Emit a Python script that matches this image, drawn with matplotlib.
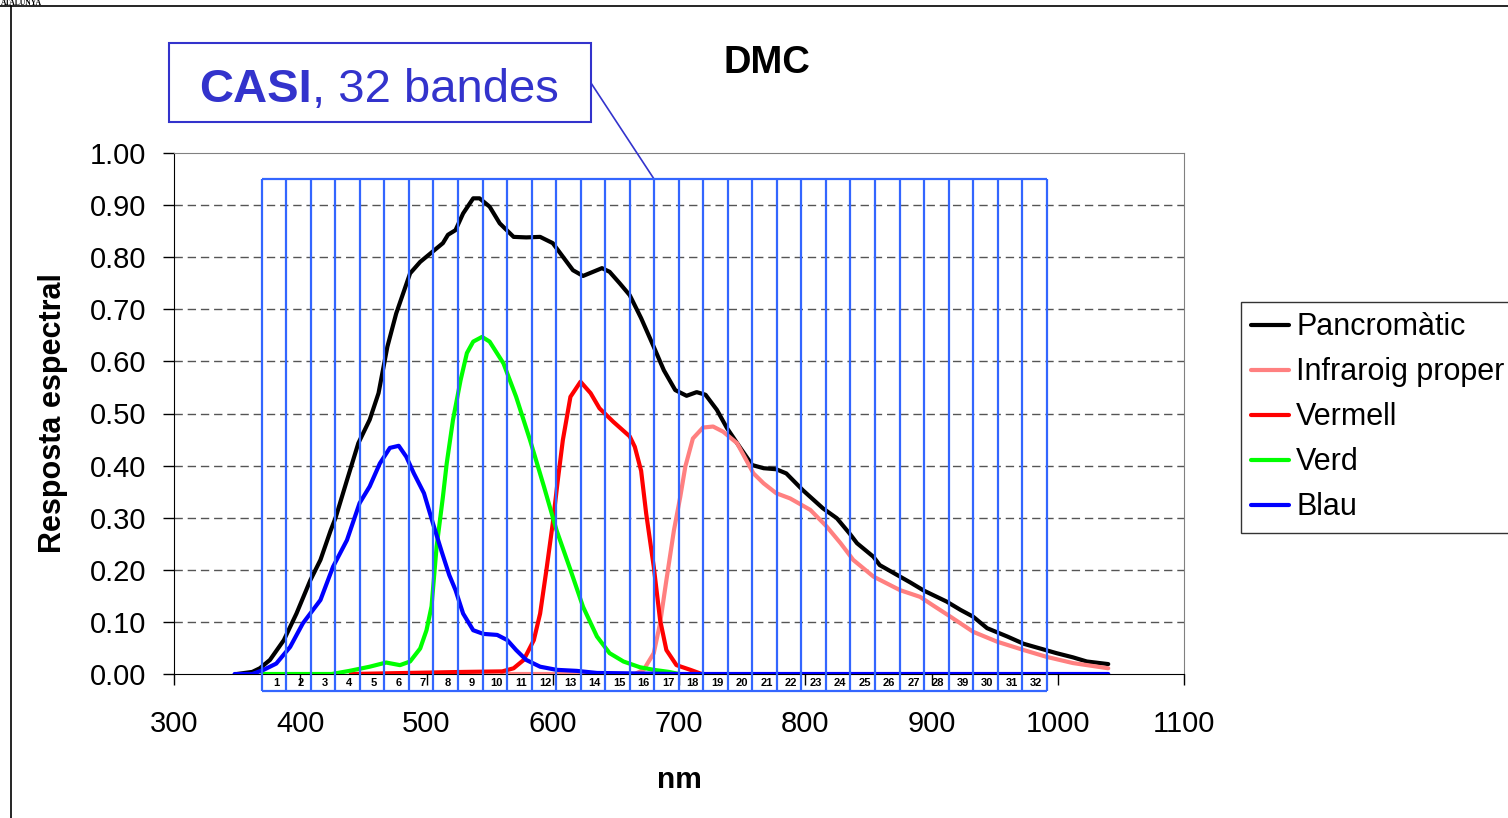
import numpy as np
import matplotlib
matplotlib.use("Agg")
import matplotlib.pyplot as plt
from matplotlib.patches import Rectangle
from matplotlib.lines import Line2D

plt.rcParams['font.family'] = ['Liberation Sans', 'DejaVu Sans']

# ==========================================
# dades llegides de la gràfica (nm, resposta)
# ==========================================
pan_nm = [350, 362, 368, 376, 387, 397, 408, 416, 424, 428,
          437, 446, 455, 462, 469, 476, 487, 495, 505, 513,
          517, 523, 529, 537, 542, 550, 558, 569, 579, 590,
          600, 608, 616, 624, 632, 639, 645, 653, 661, 670,
          680, 688, 697, 706, 714, 721, 730, 738, 748, 758,
          767, 777, 785, 798, 814, 825, 835, 841, 854, 859,
          875, 883, 894, 912, 923, 933, 944, 960, 973, 986,
          999, 1012, 1023, 1040]
pan_val = [0.0, 0.004, 0.011, 0.027, 0.065, 0.116, 0.180, 0.219, 0.275, 0.30,
           0.372, 0.443, 0.488, 0.539, 0.628, 0.692, 0.769, 0.791, 0.811, 0.827,
           0.843, 0.852, 0.884, 0.913, 0.913, 0.897, 0.865, 0.839, 0.838, 0.839,
           0.827, 0.801, 0.775, 0.764, 0.772, 0.779, 0.772, 0.75, 0.727, 0.683,
           0.628, 0.583, 0.545, 0.534, 0.541, 0.536, 0.507, 0.472, 0.436, 0.401,
           0.395, 0.393, 0.385, 0.353, 0.318, 0.299, 0.27, 0.251, 0.225, 0.209,
           0.187, 0.176, 0.160, 0.139, 0.123, 0.110, 0.088, 0.072, 0.058, 0.049,
           0.040, 0.032, 0.024, 0.019]

nir_nm = [560, 665, 672, 680, 685, 690, 696, 701, 705, 711,
          719, 727, 735, 746, 759, 767, 777, 788, 804, 817,
          828, 838, 854, 875, 891, 901, 915, 933, 952, 973,
          991, 1012, 1040]
nir_val = [0.0, 0.0, 0.008, 0.04, 0.097, 0.18, 0.276, 0.34, 0.398, 0.452,
           0.473, 0.475, 0.465, 0.443, 0.385, 0.366, 0.347, 0.337, 0.315, 0.283,
           0.251, 0.219, 0.187, 0.161, 0.148, 0.132, 0.110, 0.081, 0.062, 0.046,
           0.033, 0.021, 0.011]

red_nm = [440, 530, 560, 569, 577, 585, 590, 595, 600, 604,
          608, 614, 622, 630, 637, 648, 661, 665, 670, 674,
          680, 685, 690, 698, 709, 718]
red_val = [0.0, 0.004, 0.005, 0.011, 0.027, 0.065, 0.116, 0.2, 0.289, 0.372,
           0.449, 0.532, 0.561, 0.539, 0.51, 0.484, 0.456, 0.436, 0.39, 0.308,
           0.206, 0.104, 0.046, 0.017, 0.008, 0.0]

grn_nm = [370, 425, 439, 455, 468, 479, 487, 495, 500, 504,
          508, 513, 516, 521, 527, 532, 537, 544, 550, 561,
          571, 582, 593, 603, 614, 624, 635, 645, 656, 669,
          680, 692, 700]
grn_val = [0.0, 0.0, 0.006, 0.014, 0.022, 0.017, 0.024, 0.049, 0.084, 0.13,
           0.244, 0.34, 0.404, 0.488, 0.564, 0.616, 0.638, 0.647, 0.638, 0.596,
           0.532, 0.449, 0.36, 0.276, 0.2, 0.129, 0.072, 0.04, 0.024, 0.013,
           0.008, 0.004, 0.0]

blu_nm = [348, 362, 371, 381, 392, 402, 416, 426, 437, 447,
          455, 463, 471, 478, 484, 490, 498, 505, 512, 518,
          523, 529, 537, 545, 556, 564, 571, 579, 590, 603,
          619, 635, 700, 1040]
blu_val = [0.0, 0.0, 0.008, 0.02, 0.052, 0.097, 0.142, 0.206, 0.257, 0.328,
           0.36, 0.404, 0.434, 0.438, 0.417, 0.385, 0.347, 0.29, 0.235, 0.19,
           0.161, 0.116, 0.084, 0.077, 0.075, 0.065, 0.046, 0.027, 0.014, 0.008,
           0.006, 0.002, 0.0, 0.0]

series_names = ['Pancromàtic', 'Infraroig proper', 'Vermell', 'Verd', 'Blau']
series_colors = ['#000000', '#FF8080', '#FF0000', '#00FF00', '#0000FF']

# bandes CASI (la 29 surt com "39" a l'original)
band_labels = [str(i) for i in range(1, 29)] + ['39', '30', '31', '32']
BAND_START = 369.5
BAND_WIDTH = 19.43
BAND_TOP = 0.9495
BAND_BOTTOM = -0.0335

W, H = 1508, 818
BOX_BLUE = '#3333CC'
BAND_BLUE = '#3366FF'


def fx(px):
    return px / W


def fy(py):
    return 1 - py / H


fig = plt.figure(figsize=(W / 100, H / 100), dpi=100)
ax = fig.add_axes([fx(174), fy(674), (1184 - 174) / W, (674 - 153) / H])

all_series = [(pan_nm, pan_val), (nir_nm, nir_val), (red_nm, red_val),
              (grn_nm, grn_val), (blu_nm, blu_val)]
for (xs, ys), name, col in zip(all_series, series_names, series_colors):
    ax.plot(xs, ys, color=col, lw=3, label=name, zorder=3,
            solid_joinstyle='round', solid_capstyle='round')

ax.set_xlim(300, 1100)
ax.set_ylim(0, 1)
ax.set_xticks(range(300, 1101, 100))
yt = np.round(np.arange(0, 1.01, 0.1), 2)
ax.set_yticks(yt)
ax.set_yticklabels([f'{v:.2f}' for v in yt])
ax.tick_params(axis='both', direction='out', length=8, width=1,
               labelsize=21, color='black')
ax.tick_params(axis='x', pad=18)
ax.tick_params(axis='y', pad=12)

for v in yt[1:-1]:
    ax.axhline(v, color='#555555', lw=1, ls=(0, (6, 3.5)), zorder=1)

for side in ['top', 'right']:
    ax.spines[side].set_color('#808080')
for side in ['left', 'bottom']:
    ax.spines[side].set_color('black')

# rectangles de les bandes
edges = BAND_START + BAND_WIDTH * np.arange(len(band_labels) + 1)
ax.vlines(edges, BAND_BOTTOM, BAND_TOP, colors=BAND_BLUE, lw=1.6,
          clip_on=False, zorder=4)
ax.hlines([BAND_BOTTOM, BAND_TOP], edges[0], edges[-1], colors=BAND_BLUE,
          lw=1.6, clip_on=False, zorder=4)
for i, lab in enumerate(band_labels):
    ax.text(edges[i] + BAND_WIDTH / 2 + 1.5, -0.0175, lab, fontsize=8,
            fontweight='bold', ha='center', va='center', clip_on=False)

# títols
fig.text(fx(766.5), fy(72.7), 'DMC', fontsize=27.5, fontweight='bold',
         ha='center', va='baseline')
fig.text(fx(679), fy(788), 'nm', fontsize=21.5, fontweight='bold',
         ha='center', va='baseline')
fig.text(fx(53), fy(413), 'Resposta espectral', fontsize=22,
         fontweight='bold', rotation=90, ha='center', va='center')

# quadre CASI
fig.patches.append(Rectangle((fx(169), fy(122)), (591 - 169) / W, (122 - 43) / H,
                             transform=fig.transFigure, fill=False,
                             edgecolor=BOX_BLUE, lw=1.5))
t1 = fig.text(fx(199), fy(101.7), 'CASI', fontsize=34, fontweight='bold',
              color=BOX_BLUE, va='baseline', ha='left')
fig.canvas.draw()
bb = t1.get_window_extent(fig.canvas.get_renderer())
fig.text(bb.x1 / W, fy(101.7), ', 32 bandes', fontsize=34, color=BOX_BLUE,
         va='baseline', ha='left')
ax.annotate('', xy=(edges[16], BAND_TOP), xycoords='data',
            xytext=(fx(591), fy(83)), textcoords='figure fraction',
            arrowprops=dict(arrowstyle='-', color=BOX_BLUE, lw=1.2,
                            shrinkA=0, shrinkB=0),
            annotation_clip=False)

leg = ax.legend(loc='upper left', bbox_to_anchor=(fx(1240.7), fy(301.7)),
                bbox_transform=fig.transFigure, borderaxespad=0,
                fontsize=22, frameon=True, fancybox=False,
                borderpad=0.35, handlelength=1.24, handletextpad=0.23,
                labelspacing=0.49)
leg.get_frame().set_edgecolor('black')
leg.get_frame().set_linewidth(1)

# marc de la diapositiva
fig.add_artist(Line2D([0, 1], [fy(5.7), fy(5.7)], transform=fig.transFigure,
                      color='black', lw=1.2))
fig.add_artist(Line2D([fx(11), fx(11)], [0, fy(5.7)], transform=fig.transFigure,
                      color='black', lw=1.2))
fig.text(fx(1), fy(5.2), 'ATALUNYA', ha='left', va='baseline',
         family='Liberation Serif', fontsize=5.5, fontweight='bold')

fig.savefig('out.png', dpi=100)
